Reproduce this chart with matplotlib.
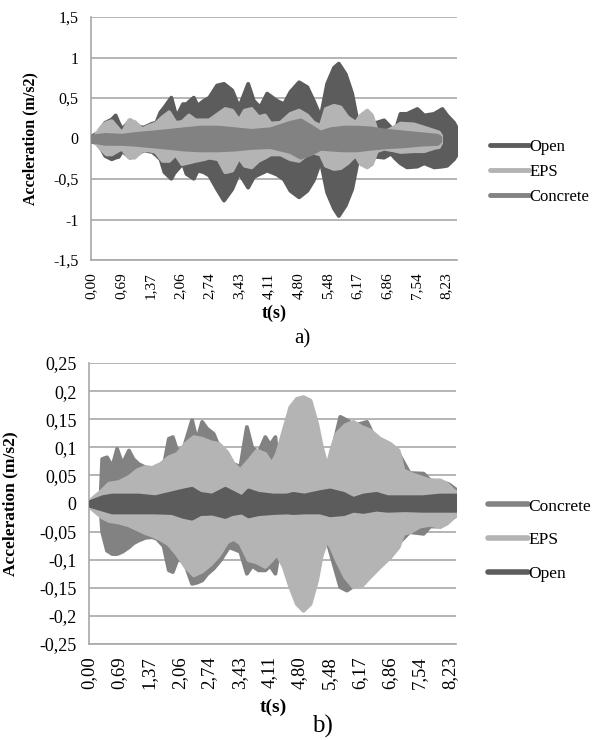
import matplotlib
matplotlib.use('Agg')
import matplotlib.pyplot as plt
from matplotlib.lines import Line2D

plt.rcParams['font.family'] = ['Liberation Serif', 'DejaVu Serif']

# ---- a) envelopes (upper / lower) ----
t_open_a = [0.00, 0.16, 0.32, 0.47, 0.56, 0.63, 0.71, 0.90, 1.05, 1.21, 1.41, 1.50, 1.60, 1.69, 1.85,
            1.92, 1.97, 2.12, 2.20, 2.37, 2.46, 2.60, 2.73, 2.91, 3.07, 3.26, 3.42, 3.63, 3.76, 3.91,
            4.07, 4.30, 4.46, 4.61, 4.81, 5.00, 5.15, 5.31, 5.46, 5.62, 5.73, 5.89, 6.04, 6.16, 6.35,
            6.60, 6.78, 6.94, 7.04, 7.16, 7.31, 7.55, 7.71, 7.94, 8.13, 8.24, 8.40, 8.48]
hi_open_a = [0.03, 0.08, 0.20, 0.24, 0.29, 0.20, 0.12, 0.23, 0.16, 0.14, 0.19, 0.20, 0.33, 0.39, 0.51,
             0.37, 0.27, 0.43, 0.43, 0.51, 0.41, 0.47, 0.51, 0.66, 0.68, 0.60, 0.39, 0.68, 0.47, 0.39,
             0.56, 0.47, 0.43, 0.58, 0.70, 0.64, 0.47, 0.27, 0.68, 0.88, 0.93, 0.80, 0.56, 0.23, 0.20,
             0.20, 0.23, 0.14, 0.10, 0.31, 0.31, 0.37, 0.29, 0.31, 0.37, 0.29, 0.20, 0.12]
lo_open_a = [-0.03, -0.06, -0.21, -0.25, -0.23, -0.22, -0.15, -0.23, -0.19, -0.14, -0.16, -0.20, -0.25, -0.41, -0.49,
             -0.42, -0.39, -0.30, -0.43, -0.49, -0.39, -0.41, -0.45, -0.62, -0.76, -0.62, -0.42, -0.60, -0.47, -0.43,
             -0.39, -0.44, -0.50, -0.64, -0.72, -0.64, -0.51, -0.27, -0.66, -0.86, -0.95, -0.82, -0.62, -0.30, -0.20,
             -0.22, -0.23, -0.18, -0.24, -0.30, -0.35, -0.34, -0.30, -0.35, -0.34, -0.33, -0.25, -0.18]

t_eps_a = [0.10, 0.25, 0.35, 0.47, 0.63, 0.71, 0.87, 1.00, 1.18, 1.33, 1.49, 1.65, 1.80, 1.95, 2.10,
           2.26, 2.41, 2.60, 2.73, 2.94, 3.10, 3.26, 3.42, 3.55, 3.71, 3.87, 4.02, 4.15, 4.38, 4.61,
           4.81, 5.00, 5.15, 5.31, 5.43, 5.62, 5.77, 5.93, 6.12, 6.24, 6.39, 6.50, 6.61, 6.78, 7.00,
           7.16, 7.47, 7.71, 7.94, 8.05, 8.10]
hi_eps_a = [0.05, 0.16, 0.20, 0.22, 0.12, 0.07, 0.23, 0.21, 0.12, 0.16, 0.19, 0.27, 0.33, 0.20, 0.21,
            0.29, 0.23, 0.23, 0.23, 0.31, 0.37, 0.35, 0.23, 0.35, 0.37, 0.27, 0.29, 0.19, 0.20, 0.31,
            0.35, 0.29, 0.20, 0.16, 0.37, 0.41, 0.39, 0.27, 0.20, 0.29, 0.35, 0.29, 0.10, 0.08, 0.14,
            0.19, 0.18, 0.14, 0.10, 0.08, 0.04]
lo_eps_a = [-0.05, -0.14, -0.19, -0.19, -0.14, -0.12, -0.23, -0.23, -0.14, -0.14, -0.16, -0.27, -0.27, -0.19, -0.31,
            -0.29, -0.27, -0.25, -0.23, -0.25, -0.41, -0.39, -0.23, -0.33, -0.35, -0.27, -0.23, -0.19, -0.19, -0.25,
            -0.27, -0.19, -0.17, -0.19, -0.33, -0.37, -0.36, -0.30, -0.20, -0.31, -0.35, -0.31, -0.15, -0.12, -0.14,
            -0.16, -0.15, -0.15, -0.11, -0.10, -0.05]

t_conc_a = [0.00, 0.32, 0.71, 1.00, 1.41, 1.80, 2.15, 2.53, 2.94, 3.33, 3.71, 4.15, 4.38,
            4.61, 4.85, 5.07, 5.31, 5.54, 5.85, 6.16, 6.47, 6.86, 7.24, 7.63, 8.02, 8.08]
hi_conc_a = [0.03, 0.05, 0.04, 0.06, 0.08, 0.10, 0.12, 0.14, 0.14, 0.12, 0.10, 0.12, 0.16,
             0.20, 0.23, 0.16, 0.08, 0.12, 0.14, 0.14, 0.13, 0.10, 0.08, 0.06, 0.04, 0.02]
lo_conc_a = [-0.03, -0.06, -0.06, -0.07, -0.09, -0.11, -0.13, -0.14, -0.14, -0.13, -0.11, -0.10, -0.13,
             -0.16, -0.23, -0.19, -0.12, -0.13, -0.14, -0.14, -0.12, -0.10, -0.09, -0.07, -0.06, -0.03]

# ---- b) ----
t_conc_b = [0.00, 0.25, 0.29, 0.40, 0.52, 0.63, 0.75, 0.90, 1.00, 1.12, 1.28, 1.43, 1.54, 1.69, 1.81,
            1.90, 2.00, 2.15, 2.34, 2.45, 2.57, 2.68, 2.83, 2.99, 3.18, 3.29, 3.44, 3.59, 3.71, 3.86,
            4.01, 4.12, 4.24, 4.31, 4.47, 4.70, 5.00, 5.40, 5.72, 5.87, 6.05, 6.33, 6.55, 6.80, 7.05,
            7.30, 7.62, 7.77, 8.00, 8.20, 8.37]
hi_conc_b = [0.004, 0.006, 0.080, 0.083, 0.066, 0.098, 0.071, 0.095, 0.080, 0.071, 0.065, 0.060, 0.068, 0.066, 0.116,
             0.119, 0.095, 0.100, 0.149, 0.113, 0.146, 0.134, 0.125, 0.095, 0.077, 0.071, 0.066, 0.137, 0.100, 0.092,
             0.119, 0.105, 0.119, 0.060, 0.137, 0.150, 0.160, 0.050, 0.155, 0.149, 0.140, 0.146, 0.110, 0.100, 0.090,
             0.055, 0.054, 0.042, 0.040, 0.035, 0.025]
lo_conc_b = [-0.004, -0.006, -0.050, -0.083, -0.089, -0.089, -0.085, -0.077, -0.070, -0.065, -0.060, -0.059, -0.062, -0.075, -0.118,
             -0.121, -0.100, -0.100, -0.142, -0.140, -0.136, -0.125, -0.115, -0.100, -0.077, -0.080, -0.085, -0.124, -0.110, -0.118,
             -0.118, -0.110, -0.124, -0.090, -0.110, -0.160, -0.170, -0.060, -0.148, -0.154, -0.145, -0.130, -0.110, -0.090, -0.070,
             -0.050, -0.053, -0.040, -0.040, -0.030, -0.020]

t_eps_b = [0.00, 0.29, 0.44, 0.67, 0.90, 1.09, 1.28, 1.43, 1.62, 1.81, 2.00, 2.19, 2.38, 2.57, 2.76,
           2.95, 3.14, 3.29, 3.44, 3.63, 3.82, 4.01, 4.16, 4.28, 4.43, 4.58, 4.73, 4.88, 5.04, 5.19,
           5.30, 5.42, 5.53, 5.64, 5.83, 6.02, 6.21, 6.40, 6.63, 6.86, 7.05, 7.16, 7.32, 7.54, 7.77,
           8.00, 8.15, 8.30, 8.37]
hi_eps_b = [0.005, 0.024, 0.036, 0.039, 0.048, 0.060, 0.066, 0.064, 0.071, 0.083, 0.089, 0.107, 0.119, 0.116, 0.110,
            0.107, 0.092, 0.071, 0.060, 0.077, 0.095, 0.089, 0.071, 0.090, 0.131, 0.172, 0.187, 0.190, 0.184, 0.143,
            0.101, 0.066, 0.100, 0.125, 0.140, 0.146, 0.137, 0.131, 0.116, 0.107, 0.095, 0.060, 0.054, 0.048, 0.042,
            0.042, 0.036, 0.024, 0.020]
lo_eps_b = [-0.005, -0.024, -0.030, -0.033, -0.038, -0.045, -0.052, -0.056, -0.063, -0.072, -0.090, -0.112, -0.127, -0.120, -0.108,
            -0.092, -0.068, -0.062, -0.070, -0.100, -0.104, -0.112, -0.100, -0.089, -0.112, -0.148, -0.178, -0.190, -0.178, -0.136,
            -0.090, -0.065, -0.080, -0.100, -0.130, -0.148, -0.146, -0.130, -0.112, -0.095, -0.077, -0.053, -0.050, -0.040, -0.037,
            -0.041, -0.035, -0.024, -0.020]

t_open_b = [0.00, 0.30, 0.52, 1.12, 1.50, 1.88, 2.15, 2.34, 2.53, 2.80, 3.10, 3.25, 3.48, 3.63, 3.86,
            4.20, 4.50, 4.65, 4.90, 5.26, 5.49, 5.80, 6.02, 6.25, 6.55, 6.80, 7.20, 7.60, 8.00, 8.37]
hi_open_b = [0.003, 0.012, 0.015, 0.015, 0.012, 0.019, 0.024, 0.027, 0.018, 0.015, 0.027, 0.021, 0.012, 0.024, 0.018,
             0.015, 0.015, 0.018, 0.015, 0.021, 0.024, 0.018, 0.009, 0.015, 0.018, 0.012, 0.012, 0.012, 0.015, 0.015]
lo_open_b = [-0.003, -0.010, -0.015, -0.015, -0.015, -0.016, -0.023, -0.026, -0.018, -0.017, -0.023, -0.018, -0.015, -0.022, -0.018,
             -0.016, -0.015, -0.016, -0.015, -0.015, -0.020, -0.018, -0.012, -0.014, -0.010, -0.012, -0.011, -0.012, -0.012, -0.012]

x_ticklabels = ['0,00', '0,69', '1,37', '2,06', '2,74', '3,43', '4,11', '4,80', '5,48', '6,17', '6,86', '7,54', '8,23']
y_ticks_a = [-1.5, -1, -0.5, 0, 0.5, 1, 1.5]
y_ticklabels_a = ['-1,5', '-1', '-0,5', '0', '0,5', '1', '1,5']
y_ticks_b = [-0.25, -0.2, -0.15, -0.1, -0.05, 0, 0.05, 0.1, 0.15, 0.2, 0.25]
y_ticklabels_b = ['-0,25', '-0,2', '-0,15', '-0,1', '-0,05', '0', '0,05', '0,1', '0,15', '0,2', '0,25']

c_open = '#5c5c5c'
c_eps = '#b4b4b4'
c_conc = '#828282'
grid_c = '#a8a8a8'

W, H = 595, 740
fig = plt.figure(figsize=(W / 100, H / 100), dpi=100)


def fx(px):
    return px / W


def fy(py):
    return 1 - py / H


def band(ax, t, hi, lo, color, z):
    ax.fill_between(t, lo, hi, facecolor=color, edgecolor=color, linewidth=2.8,
                    joinstyle='round', zorder=z)


def style(ax, xmax, yticks, ylabels, ylim, fs_x, fs_y):
    ax.set_xlim(0, xmax)
    ax.set_ylim(*ylim)
    xt = [float(s.replace(',', '.')) for s in x_ticklabels]
    ax.set_xticks(xt)
    ax.set_xticklabels(x_ticklabels, rotation=90, fontsize=fs_x)
    ax.set_yticks(yticks)
    ax.set_yticklabels(ylabels, fontsize=fs_y)
    ax.tick_params(length=0, pad=9)
    ax.grid(axis='y', color=grid_c, linewidth=1.2)
    ax.set_axisbelow(True)
    for s in ['top', 'right']:
        ax.spines[s].set_visible(False)
    for s in ['left', 'bottom']:
        ax.spines[s].set_color(grid_c)
        ax.spines[s].set_linewidth(1.2)


# ---------- a) ----------
ax1 = fig.add_axes([fx(91), fy(260), (457 - 91) / W, (260 - 17) / H])
band(ax1, t_open_a, hi_open_a, lo_open_a, c_open, 2)
band(ax1, t_eps_a, hi_eps_a, lo_eps_a, c_eps, 3)
band(ax1, t_conc_a, hi_conc_a, lo_conc_a, c_conc, 4)
style(ax1, 8.48, y_ticks_a, y_ticklabels_a, (-1.5, 1.5), 11, 11.5)
ax1.set_ylabel('Acceleration (m/s2)', fontsize=11.5, fontweight='bold')
ax1.yaxis.set_label_coords((38 - 91) / 366, 0.5)
fig.text(fx(274), fy(313), 't(s)', fontsize=13, fontweight='bold', ha='center', va='center')
fig.text(fx(302), fy(339), 'a)', fontsize=15, ha='center', va='center')

h_a = [Line2D([], [], color=c, lw=3.5, solid_capstyle='round') for c in (c_open, c_eps, c_conc)]
fig.legend(h_a, ['Open', 'EPS', 'Concrete'], loc='center left', bbox_to_anchor=(fx(482), fy(172)),
           frameon=False, borderpad=0, handlelength=2.3, handletextpad=0.05, labelspacing=0.55,
           fontsize=12)

# ---------- b) ----------
ax2 = fig.add_axes([fx(89), fy(644), (456 - 89) / W, (644 - 363) / H])
band(ax2, t_conc_b, hi_conc_b, lo_conc_b, c_conc, 2)
band(ax2, t_eps_b, hi_eps_b, lo_eps_b, c_eps, 3)
band(ax2, t_open_b, hi_open_b, lo_open_b, c_open, 4)
style(ax2, 8.37, y_ticks_b, y_ticklabels_b, (-0.25, 0.25), 13.5, 13)
ax2.set_ylabel('Acceleration (m/s2)', fontsize=12.5, fontweight='bold')
ax2.yaxis.set_label_coords((18 - 89) / 367, 0.5)
fig.text(fx(273), fy(707), 't(s)', fontsize=14, fontweight='bold', ha='center', va='center')
fig.text(fx(322), fy(726), 'b)', fontsize=18, ha='center', va='center')

h_b = [Line2D([], [], color=c, lw=4, solid_capstyle='round') for c in (c_conc, c_eps, c_open)]
fig.legend(h_b, ['Concrete', 'EPS', 'Open'], loc='center left', bbox_to_anchor=(fx(479), fy(540)),
           frameon=False, borderpad=0, handlelength=2.3, handletextpad=0.05, labelspacing=1.0,
           fontsize=12.5)

fig.savefig('out.png', dpi=100)
